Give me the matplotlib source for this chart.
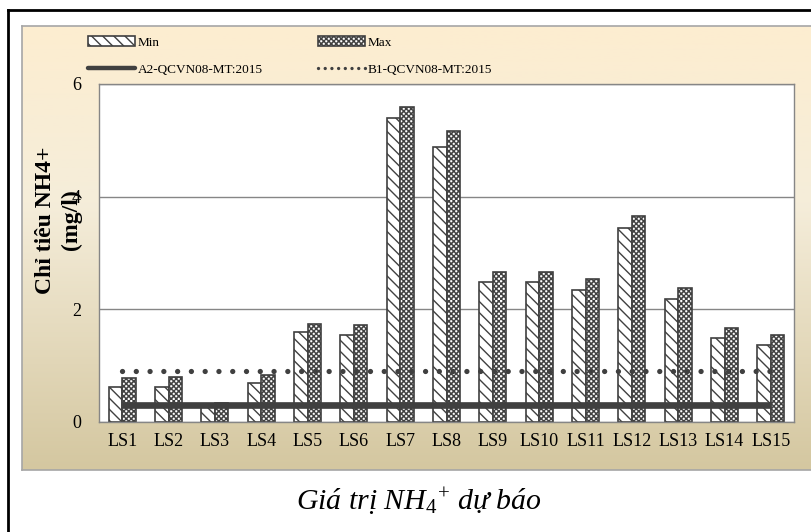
import numpy as np
import matplotlib
matplotlib.use("Agg")
import matplotlib.pyplot as plt
import matplotlib.hatch as mhatch
from matplotlib.path import Path
from matplotlib.lines import Line2D

# data (mg/l)
sites = ["LS1", "LS2", "LS3", "LS4", "LS5", "LS6", "LS7", "LS8",
         "LS9", "LS10", "LS11", "LS12", "LS13", "LS14", "LS15"]
min_vals = [0.63, 0.63, 0.28, 0.69, 1.60, 1.54, 5.39, 4.88,
            2.49, 2.49, 2.35, 3.45, 2.18, 1.50, 1.37]
max_vals = [0.78, 0.80, 0.33, 0.83, 1.74, 1.73, 5.60, 5.16,
            2.66, 2.66, 2.53, 3.66, 2.37, 1.67, 1.54]
a2_limit = [0.3, 0.3, 0.3, 0.3, 0.3, 0.3, 0.3, 0.3,
            0.3, 0.3, 0.3, 0.3, 0.3, 0.3, 0.3]
b1_limit = [0.9, 0.9, 0.9, 0.9, 0.9, 0.9, 0.9, 0.9,
            0.9, 0.9, 0.9, 0.9, 0.9, 0.9, 0.9]
yticks = [0, 2, 4, 6]

plt.rcParams['font.family'] = ['Liberation Serif', 'DejaVu Serif']
plt.rcParams['mathtext.fontset'] = 'custom'
plt.rcParams['mathtext.rm'] = 'Liberation Serif'
plt.rcParams['mathtext.it'] = 'Liberation Serif:italic'
plt.rcParams['hatch.linewidth'] = 1.0


# checkerboard hatch, used instead of the small circles for 'o'
class CheckerHatch(mhatch.HatchPatternBase):
    def __init__(self, hatch, density):
        self.on = 'o' in hatch
        self.n = 20
        self.num_vertices = 2 * self.n * self.n * 5 if self.on else 0

    def set_vertices_and_codes(self, vertices, codes):
        cell = 1.0 / (2 * self.n)
        lw = plt.rcParams['hatch.linewidth'] / 72.0
        side = max(cell - 0.7 * lw, 0.002)
        k = 0
        for i in range(2 * self.n):
            for j in range(2 * self.n):
                if (i + j) % 2:
                    continue
                x0 = j * cell + (cell - side) / 2
                y0 = i * cell + (cell - side) / 2
                vertices[k:k + 5] = [[x0, y0], [x0 + side, y0], [x0 + side, y0 + side],
                                     [x0, y0 + side], [x0, y0]]
                codes[k:k + 5] = [Path.MOVETO, Path.LINETO, Path.LINETO,
                                  Path.LINETO, Path.CLOSEPOLY]
                k += 5


mhatch._hatch_types = [t for t in mhatch._hatch_types
                       if t is not mhatch.SmallCircles] + [CheckerHatch]

W, H = 811, 532
fig = plt.figure(figsize=(W / 100, H / 100), dpi=100)
fig.patch.set_facecolor('white')

# outer frame
fig.add_artist(Line2D([8 / W, 8 / W], [0, 1 - 10 / H], color='black', lw=2,
                      transform=fig.transFigure))
fig.add_artist(Line2D([8 / W, 1], [1 - 10 / H, 1 - 10 / H], color='black', lw=2,
                      transform=fig.transFigure))

# chart area with gradient
bg = fig.add_axes([22 / W, 1 - 470 / H, (W - 22) / W + 0.02, (470 - 26) / H], zorder=0)
top = np.array([253, 237, 208]) / 255
mid = np.array([245, 237, 218]) / 255
bot = np.array([212, 199, 160]) / 255
t = np.linspace(0, 1, 200)[:, None]
grad = np.where(t < 0.4, top + (mid - top) * (t / 0.4), mid + (bot - mid) * ((t - 0.4) / 0.6))
bg.imshow(grad[:, None, :], extent=[0, 1, 0, 1], aspect='auto')
bg.set_xticks([])
bg.set_yticks([])
for s in bg.spines.values():
    s.set_color('#a6a6a6')
    s.set_linewidth(1.2)

ax = fig.add_axes([99 / W, 1 - 422 / H, (794 - 99) / W, (422 - 84) / H], zorder=2)
ax.set_facecolor('white')

x = np.arange(len(sites))
w = 0.29
dark = '#404040'
b_min = ax.bar(x - w / 2, min_vals, w, color='white', edgecolor=dark, hatch='\\\\\\',
               linewidth=1.2, zorder=2, label='Min')
b_max = ax.bar(x + w / 2, max_vals, w, color='white', edgecolor=dark, hatch='o',
               linewidth=1.2, zorder=2, label='Max')
ax.plot(x, a2_limit, color=dark, lw=4.8, solid_capstyle='butt', zorder=3)
ax.plot(x, b1_limit, color=dark, lw=3.8, linestyle=(0, (0.01, 2.6)),
        dash_capstyle='round', zorder=3)

ax.set_xlim(-0.5, len(sites) - 0.5)
ax.set_ylim(0, 6)
ax.set_yticks(yticks)
ax.set_xticks(x)
ax.set_xticklabels(sites)
ax.tick_params(length=0, labelsize=13)
ax.tick_params(axis='y', pad=13)
ax.tick_params(axis='x', pad=8)
ax.set_axisbelow(True)
ax.yaxis.grid(True, color='#868686', lw=1)
for s in ax.spines.values():
    s.set_color('#868686')
    s.set_linewidth(1)

fig.text(58.5 / W, 1 - 220 / H, 'Chỉ tiêu NH4+\n(mg/l)', rotation=90, ha='center',
         va='center', fontsize=17, fontweight='bold', multialignment='center',
         linespacing=1.3)

# legend proxies for the lines
h_a2 = Line2D([], [], color=dark, lw=3.2, solid_capstyle='round')
h_b1 = Line2D([], [], color=dark, lw=2.4, linestyle=(0, (0.01, 2.0)),
              dash_capstyle='round')
fig.legend([b_min, h_a2, b_max, h_b1],
           ['Min', 'A2-QCVN08-MT:2015', 'Max', 'B1-QCVN08-MT:2015'],
           ncol=2, loc='upper left', bbox_to_anchor=(88 / W, 1 - 36 / H),
           frameon=False, fontsize=9.5, handlelength=3.56, handleheight=0.8,
           handletextpad=0.2, columnspacing=4.2, labelspacing=1.1,
           borderpad=0, borderaxespad=0)

fig.text(419 / W, 1 - 502 / H, r'Giá trị NH$_\mathit{4}$$^{+}$ dự báo', ha='center',
         va='center', fontsize=21.5, style='italic')

fig.savefig('out.png', dpi=100)
